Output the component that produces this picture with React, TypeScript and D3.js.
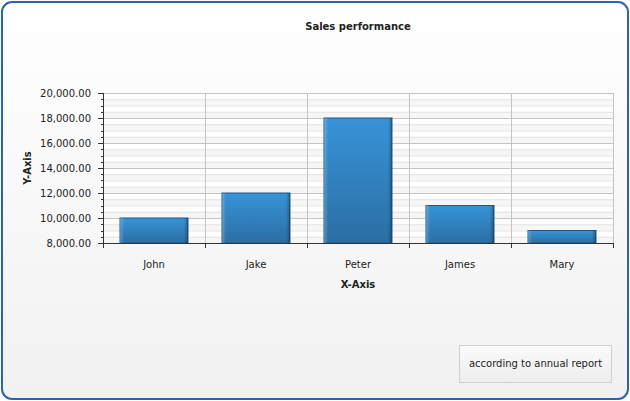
import React from "react";
import * as d3 from "d3";

const categories = ["John", "Jake", "Peter", "James", "Mary"];
const values = [10000, 12000, 18000, 11000, 9000];
const yTicks = [8000, 10000, 12000, 14000, 16000, 18000, 20000];
const chartTitle = "Sales performance";
const xTitle = "X-Axis";
const yTitle = "Y-Axis";
const noteText = "according to annual report";

const W = 630, H = 401;
const left = 103, right = 613, top = 93, bottom = 243;
const FONT = "Tahoma, 'DejaVu Sans', Verdana, sans-serif";

export default function App() {
  const x = d3.scaleBand().domain(categories).range([left, right]).paddingInner(0).paddingOuter(0);
  const y = d3.scaleLinear().domain([8000, 20000]).range([bottom, top]);
  const minor = d3.range(8000, 20001, 500).filter((v) => v % 2000 !== 0);
  const bw = x.bandwidth();
  const barW = bw * (2 / 3);
  const fmt = d3.format(",.2f");
  const bounds = categories.map((c) => x(c)!).concat([right]);

  return (
    <svg width={W} height={H} style={{ position: "absolute", left: 0, top: 0 }} fontFamily={FONT}>
      <defs>
        <linearGradient id="bg" x1="0" y1="0" x2="0" y2="1">
          <stop offset="0" stopColor="#ffffff" />
          <stop offset="1" stopColor="#f1f1f1" />
        </linearGradient>
        <linearGradient id="bar" x1="0" y1="0" x2="0" y2="1">
          <stop offset="0" stopColor="#3794d8" />
          <stop offset="1" stopColor="#2b6ea3" />
        </linearGradient>
        <linearGradient id="barH" x1="0" y1="0" x2="1" y2="0">
          <stop offset="0" stopColor="#ffffff" stopOpacity="0.25" />
          <stop offset="0.06" stopColor="#ffffff" stopOpacity="0" />
          <stop offset="0.94" stopColor="#000000" stopOpacity="0" />
          <stop offset="1" stopColor="#000000" stopOpacity="0.3" />
        </linearGradient>
        <linearGradient id="note" x1="0" y1="0" x2="0" y2="1">
          <stop offset="0" stopColor="#fbfbfb" />
          <stop offset="1" stopColor="#ededed" />
        </linearGradient>
      </defs>
      <rect x={2} y={2} width={W - 4} height={H - 4} rx={10} fill="url(#bg)" stroke="#2a64b0" strokeWidth={2} />
      <text x={358} y={30} textAnchor="middle" fontSize={10} fontWeight="bold" fill="#222">{chartTitle}</text>

      {/* plot background */}
      <rect x={left} y={top} width={right - left} height={bottom - top} fill="#ffffff" />
      {d3.range(8000, 20000, 1000).map((v) => (
        <rect key={"band" + v} x={left} y={y(v + 500)} width={right - left} height={y(v) - y(v + 500)} fill="#f6f6f6" />
      ))}
      {minor.map((v) => (
        <line key={"mg" + v} x1={left} x2={right} y1={y(v) + 0.5} y2={y(v) + 0.5} stroke="#e4e4e4" />
      ))}
      {yTicks.map((v) => (
        <line key={"g" + v} x1={left} x2={right} y1={Math.round(y(v)) + 0.5} y2={Math.round(y(v)) + 0.5} stroke="#c4c4c4" />
      ))}
      {bounds.map((b, i) => (
        <line key={"vg" + i} x1={Math.round(b) + 0.5} x2={Math.round(b) + 0.5} y1={top} y2={bottom} stroke="#c4c4c4" />
      ))}

      {/* bars */}
      {categories.map((c, i) => {
        const bx = x(c)! + (bw - barW) / 2;
        const by = y(values[i]);
        const bh = bottom - by;
        return (
          <g key={c}>
            <rect x={bx} y={by} width={barW} height={bh} fill="url(#bar)" stroke="#1d5784" strokeWidth={1} />
            <rect x={bx} y={by} width={barW} height={bh} fill="url(#barH)" />
          </g>
        );
      })}

      {/* axes */}
      <line x1={left + 0.5} x2={left + 0.5} y1={top} y2={bottom} stroke="#333" />
      <line x1={left} x2={right + 1} y1={bottom + 0.5} y2={bottom + 0.5} stroke="#333" />
      {yTicks.map((v) => (
        <g key={"yt" + v}>
          <line x1={left - 5} x2={left} y1={Math.round(y(v)) + 0.5} y2={Math.round(y(v)) + 0.5} stroke="#333" />
          <text x={left - 12} y={y(v) + 4} textAnchor="end" fontSize={10} fill="#222">{fmt(v)}</text>
        </g>
      ))}
      {minor.map((v) => (
        <line key={"mt" + v} x1={left - 2} x2={left} y1={Math.round(y(v)) + 0.5} y2={Math.round(y(v)) + 0.5} stroke="#333" />
      ))}
      {bounds.map((b, i) => (
        <line key={"xt" + i} x1={Math.round(b) + 0.5} x2={Math.round(b) + 0.5} y1={bottom} y2={bottom + 5} stroke="#333" />
      ))}
      {categories.map((c) => (
        <text key={"xl" + c} x={x(c)! + bw / 2} y={268} textAnchor="middle" fontSize={10} fill="#222">{c}</text>
      ))}
      <text x={358} y={288} textAnchor="middle" fontSize={10} fontWeight="bold" fill="#222">{xTitle}</text>
      <text transform={`translate(31, ${(top + bottom) / 2}) rotate(-90)`} textAnchor="middle" fontSize={10} fontWeight="bold" fill="#222">{yTitle}</text>

      {/* note */}
      <rect x={459.5} y={345.5} width={152} height={37} fill="url(#note)" stroke="#cfcfcf" />
      <text x={535.5} y={367} textAnchor="middle" fontSize={10} fill="#222">{noteText}</text>
    </svg>
  );
}
